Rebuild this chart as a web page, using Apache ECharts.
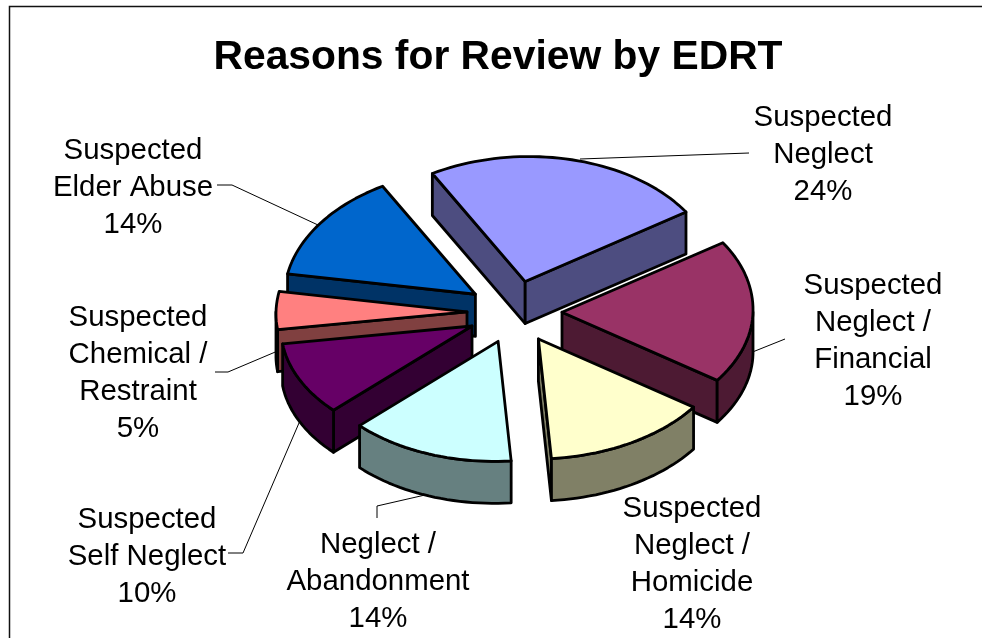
<!DOCTYPE html>
<html><head><meta charset="utf-8">
<style>html,body{margin:0;padding:0;background:#fff}#c{width:982px;height:638px}</style>
<script src="https://cdn.jsdelivr.net/npm/echarts@6/dist/echarts.min.js"></script>
</head><body><div id="c"></div>
<script>
// ---- data ----
const titleText = 'Reasons for Review by EDRT';
const categories = ['Suspected\nNeglect','Suspected\nNeglect /\nFinancial','Suspected\nNeglect /\nHomicide','Neglect /\nAbandonment','Suspected\nSelf Neglect','Suspected\nChemical /\nRestraint','Suspected\nElder Abuse'];
const values = [24,19,14,14,10,5,14];
// ---- styles / layout (separate from data) ----
const topColors  = ['#9999FF','#993366','#FFFFCC','#CCFFFF','#660066','#FF8080','#0066CC'];
const sideColors = ['#4D4D80','#4D1A33','#808066','#668080','#330033','#804040','#003366'];
const labelPos = [[823,155],[873,341.5],[692,564],[378,582],[147,557],[138,373],[133,188]];
const leaders = [
  [[580,159],[749,153]],
  [[750,353],[785,339]],
  null,
  [[425,495],[377,506],[377,518]],
  [[302,416],[243,553],[228,553]],
  [[280,350],[228,372],[215,372]],
  [[318,225],[232,185],[217,185]]
];
const CX=514.5, CY=312, RX=191, RY_BACK=125, RY_FRONT=120, DEPTH=42, EXPLODE=0.25, START=-30.2, SHEAR=0.03;
const FONT='"Liberation Sans", Arial, sans-serif';

const rad=d=>d*Math.PI/180;
const total=values.reduce((a,b)=>a+b,0);
let acc=START;
const slices=values.map((v,i)=>{
  const a0=acc, a1=acc+v/total*360; acc=a1;
  const m=(a0+a1)/2;
  return {i,a0,a1,ax:CX+EXPLODE*190*Math.sin(rad(m)),ay:CY-EXPLODE*RY_BACK*Math.cos(rad(m))};
});
function arcPts(s,dy,from,to){
  const n=Math.max(2,Math.ceil(Math.abs(to-from)/2)),p=[];
  for(let k=0;k<=n;k++){const t=rad(from+(to-from)*k/n),c=Math.cos(t);
    const yr=(c>=0?RY_BACK:RY_FRONT)*c;
    p.push([s.ax+RX*Math.sin(t)+SHEAR*yr,s.ay-yr+dy]);}
  return p;
}
const order=slices.slice().sort((a,b)=>a.ay-b.ay);
const LW=2.8;
function poly(points,fill,z2){
  return {type:'polygon',z2,shape:{points},style:{fill,stroke:'#000',lineWidth:LW,lineJoin:'round'}};
}
function renderItem(params){
  const s=order[params.dataIndex], base=(params.dataIndex+1)*10, i=s.i;
  const kids=[];
  const top=arcPts(s,0,s.a0,s.a1);
  const A=[s.ax,s.ay],B=[s.ax,s.ay+DEPTH];
  if(Math.cos(rad(s.a0-90))<0){
    const e=arcPts(s,0,s.a0,s.a0)[0];
    kids.push(poly([A,e,[e[0],e[1]+DEPTH],B],sideColors[i],base));
  }
  if(Math.cos(rad(s.a1+90))<0){
    const e=arcPts(s,0,s.a1,s.a1)[0];
    kids.push(poly([A,e,[e[0],e[1]+DEPTH],B],sideColors[i],base+1));
  }
  const f0=Math.max(s.a0,90), f1=Math.min(s.a1,270);
  if(f1>f0){
    const ft=arcPts(s,0,f0,f1), fb=arcPts(s,DEPTH,f0,f1);
    kids.push(poly(ft.concat(fb.reverse()),sideColors[i],base+2));
  }
  kids.push(poly([A].concat(top),topColors[i],base+3));
  return {type:'group',children:kids};
}
function renderLabel(params){
  const i=params.dataIndex,kids=[];
  if(leaders[i]) kids.push({type:'polyline',z2:1,shape:{points:leaders[i]},style:{fill:null,stroke:'#000',lineWidth:1}});
  kids.push({type:'text',z2:200,x:labelPos[i][0],y:labelPos[i][1],
    style:{text:categories[i]+'\n'+values[i]+'%',font:'29.4px '+FONT,lineHeight:37,fill:'#000',align:'center',verticalAlign:'middle'}});
  return {type:'group',children:kids};
}
const chart=echarts.init(document.getElementById('c'),null,{renderer:'canvas'});
chart.setOption({
  animation:false,backgroundColor:'#fff',
  title:{text:titleText,left:493,top:32,textAlign:'center',textStyle:{fontFamily:FONT,fontWeight:'bold',fontSize:40.8,color:'#000'}},
  graphic:[{type:'polyline',shape:{points:[[9.5,638],[9.5,6.5],[982,6.5]]},style:{fill:null,stroke:'#111',lineWidth:1.5},silent:true}],
  series:[
    {type:'custom',coordinateSystem:'none',z:2,silent:true,data:order.map(s=>values[s.i]),renderItem},
    {type:'custom',coordinateSystem:'none',z:1,silent:true,data:values,renderItem:renderLabel}
  ]
});
</script></body></html>
